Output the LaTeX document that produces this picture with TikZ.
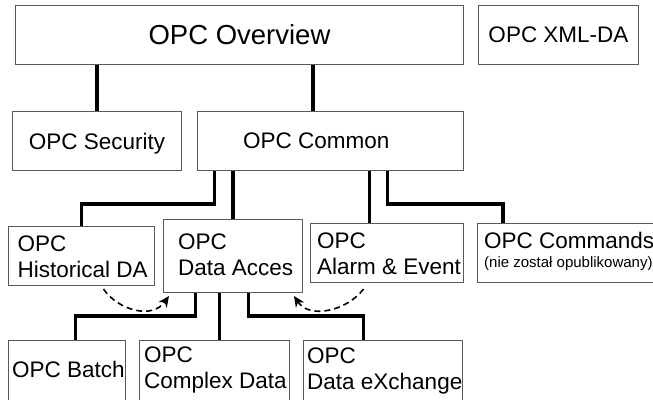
\documentclass[tikz,border=0pt]{standalone}
\usepackage{fontspec}
\setmainfont{Liberation Sans}
\usetikzlibrary{calc,arrows.meta}
\newcommand\fmain{\fontsize{22.5}{26}\selectfont}
\newcommand\fbig{\fontsize{27.5}{32}\selectfont}
\newcommand\fsmall{\fontsize{15}{17}\selectfont}
\begin{document}
\begin{tikzpicture}[x=1pt,y=-1pt,
  box/.style={draw=black!65, line width=1pt, rectangle, inner sep=0pt, anchor=north west, font=\fmain, text depth=0pt},
  txt/.style={inner sep=0pt, anchor=north west, align=left, font=\fmain},
  conn/.style={line width=3.6pt, line join=miter},
  dasharr/.style={line width=1.6pt, dash pattern=on 6pt off 4pt, -{Stealth[length=11pt,width=10pt]}}]
\useasboundingbox[fill=white] (0,0) rectangle (653,399);

% top rows
\node[box, minimum width=448pt, minimum height=59pt, font=\fbig] (ov) at (15,5) {OPC Overview};
\node[box, minimum width=160pt, minimum height=59pt] (xml) at (478,5) {OPC XML-DA};
\node[box, minimum width=169pt, minimum height=59pt] (sec) at (12,111) {OPC Security};
\node[box, minimum width=266pt, minimum height=59pt] (com) at (197,111) {};
\node[txt] (comt) at ($(com.north west)+(46,21.6)$) {OPC Common};

% third row
\node[box, minimum width=146pt, minimum height=59pt] (hist) at (8,226) {};
\node[txt] (histt) at ($(hist.north west)+(9.5,10)$) {OPC\\Historical DA};
\node[box, minimum width=139pt, minimum height=73pt] (da) at (163,219) {};
\node[txt] (dat) at ($(da.north west)+(15,14.6)$) {OPC\\Data Acces};
\node[box, minimum width=153pt, minimum height=59pt] (alarm) at (310,223) {};
\node[txt] (alarmt) at ($(alarm.north west)+(7,9.6)$) {OPC\\Alarm \& Event};
\node[box, minimum width=183pt, minimum height=59pt] (cmd) at (477,223) {};
\node[txt] (cmdt) at ($(cmd.north west)+(7,8.6)$) {OPC Commands\\[-7pt]{\fsmall (nie został opublikowany)}};

% bottom row
\node[box, minimum width=117pt, minimum height=65pt] (batch) at (8,340) {};
\node[txt] (batcht) at ($(batch.north west)+(4,20.6)$) {OPC Batch};
\node[box, minimum width=150pt, minimum height=65pt] (cplx) at (139,340) {};
\node[txt] (cplxt) at ($(cplx.north west)+(5,6.6)$) {OPC\\Complex Data};
\node[box, minimum width=159pt, minimum height=65pt] (exch) at (303,340) {};
\node[txt] (excht) at ($(exch.north west)+(4,7.6)$) {OPC\\Data eXchange};

% connectors
\draw[conn] (ov.south -| sec.north) -- (sec.north);
\draw[conn] ([xshift=-17.5pt]com.north |- ov.south) -- ([xshift=-17.5pt]com.north);
\draw[conn] ([xshift=-116pt]com.south) -- ++(0,33) -| (hist.north);
\draw[conn] (com.south -| da.north) -- (da.north);
\draw[conn] ([xshift=39pt]com.south) -- ([xshift=39pt]com.south |- alarm.north);
\draw[conn] ([xshift=57pt]com.south) -- ++(0,33) -| ([xshift=26pt]cmd.north west);
\draw[conn] ([xshift=-37.5pt]da.south) -- ++(0,23) -| ([xshift=8.5pt]batch.north);
\draw[conn] ([xshift=-13.5pt]da.south) -- ([xshift=-13.5pt]da.south |- cplx.north);
\draw[conn] ([xshift=15.5pt]da.south) -- ++(0,23) -| ([xshift=-19.5pt]exch.north);

% dashed arrows
\draw[dasharr] ($(hist.south)+(22,3)$) .. controls (118,310) and (152,320) .. ($(da.south west)+(6,3)$);
\draw[dasharr] ($(alarm.south)+(-23.5,6)$) .. controls (348,310) and (310,320) .. ($(da.south east)+(-9,3)$);
\end{tikzpicture}
\end{document}
